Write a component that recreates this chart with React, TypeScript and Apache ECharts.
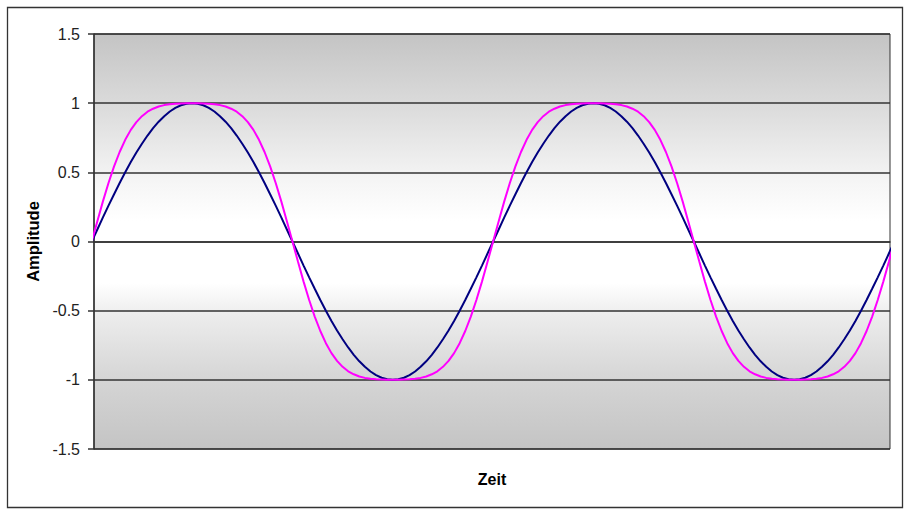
import React, { useEffect, useRef } from "react";
import * as echarts from "echarts";

// Zeit (phase, in degrees) of each sample
const zeit = [
  0, 5, 10, 15, 20, 25, 30, 35, 40, 45, 50, 55, 60, 65, 70, 75, 80, 85, 90, 95, 100, 105, 110, 115, 120, 125, 130, 135, 140, 145, 150, 155, 160, 165, 170, 175,
  180, 185, 190, 195, 200, 205, 210, 215, 220, 225, 230, 235, 240, 245, 250, 255, 260, 265, 270, 275, 280, 285, 290, 295, 300, 305, 310, 315, 320, 325, 330, 335, 340, 345, 350, 355,
  360, 365, 370, 375, 380, 385, 390, 395, 400, 405, 410, 415, 420, 425, 430, 435, 440, 445, 450, 455, 460, 465, 470, 475, 480, 485, 490, 495, 500, 505, 510, 515, 520, 525, 530, 535,
  540, 545, 550, 555, 560, 565, 570, 575, 580, 585, 590, 595, 600, 605, 610, 615, 620, 625, 630, 635, 640, 645, 650, 655, 660, 665, 670, 675, 680, 685, 690, 695, 700, 705, 710, 715,
  720,
];

// dark blue curve
const sinus = [
  0, 0.087, 0.174, 0.259, 0.342, 0.423, 0.5, 0.574, 0.643, 0.707, 0.766, 0.819, 0.866, 0.906, 0.94, 0.966, 0.985, 0.996, 1, 0.996, 0.985, 0.966, 0.94, 0.906, 0.866, 0.819, 0.766, 0.707, 0.643, 0.574, 0.5, 0.423, 0.342, 0.259, 0.174, 0.087,
  0, -0.087, -0.174, -0.259, -0.342, -0.423, -0.5, -0.574, -0.643, -0.707, -0.766, -0.819, -0.866, -0.906, -0.94, -0.966, -0.985, -0.996, -1, -0.996, -0.985, -0.966, -0.94, -0.906, -0.866, -0.819, -0.766, -0.707, -0.643, -0.574, -0.5, -0.423, -0.342, -0.259, -0.174, -0.087,
  0, 0.087, 0.174, 0.259, 0.342, 0.423, 0.5, 0.574, 0.643, 0.707, 0.766, 0.819, 0.866, 0.906, 0.94, 0.966, 0.985, 0.996, 1, 0.996, 0.985, 0.966, 0.94, 0.906, 0.866, 0.819, 0.766, 0.707, 0.643, 0.574, 0.5, 0.423, 0.342, 0.259, 0.174, 0.087,
  0, -0.087, -0.174, -0.259, -0.342, -0.423, -0.5, -0.574, -0.643, -0.707, -0.766, -0.819, -0.866, -0.906, -0.94, -0.966, -0.985, -0.996, -1, -0.996, -0.985, -0.966, -0.94, -0.906, -0.866, -0.819, -0.766, -0.707, -0.643, -0.574, -0.5, -0.423, -0.342, -0.259, -0.174, -0.087,
  0,
];

// magenta curve (flattened tops)
const verzerrt = [
  0, 0.147, 0.29, 0.423, 0.543, 0.647, 0.735, 0.807, 0.863, 0.906, 0.938, 0.96, 0.976, 0.986, 0.992, 0.996, 0.998, 1, 1, 1, 0.998, 0.996, 0.992, 0.986, 0.976, 0.96, 0.938, 0.906, 0.863, 0.807, 0.735, 0.647, 0.543, 0.423, 0.29, 0.147,
  0, -0.147, -0.29, -0.423, -0.543, -0.647, -0.735, -0.807, -0.863, -0.906, -0.938, -0.96, -0.976, -0.986, -0.992, -0.996, -0.998, -1, -1, -1, -0.998, -0.996, -0.992, -0.986, -0.976, -0.96, -0.938, -0.906, -0.863, -0.807, -0.735, -0.647, -0.543, -0.423, -0.29, -0.147,
  0, 0.147, 0.29, 0.423, 0.543, 0.647, 0.735, 0.807, 0.863, 0.906, 0.938, 0.96, 0.976, 0.986, 0.992, 0.996, 0.998, 1, 1, 1, 0.998, 0.996, 0.992, 0.986, 0.976, 0.96, 0.938, 0.906, 0.863, 0.807, 0.735, 0.647, 0.543, 0.423, 0.29, 0.147,
  0, -0.147, -0.29, -0.423, -0.543, -0.647, -0.735, -0.807, -0.863, -0.906, -0.938, -0.96, -0.976, -0.986, -0.992, -0.996, -0.998, -1, -1, -1, -0.998, -0.996, -0.992, -0.986, -0.976, -0.96, -0.938, -0.906, -0.863, -0.807, -0.735, -0.647, -0.543, -0.423, -0.29, -0.147,
  0,
];

const yTicks = { min: -1.5, max: 1.5, interval: 0.5 };
const xRange = { min: 2, max: 716 };

export default function App() {
  const ref = useRef<HTMLDivElement>(null);

  useEffect(() => {
    document.body.style.margin = "0";
    const chart = echarts.init(ref.current!, undefined, { renderer: "svg" });
    const font = "'Liberation Sans', Arial, sans-serif";
    chart.setOption({
      animation: false,
      backgroundColor: "#ffffff",
      graphic: [
        {
          type: "rect",
          shape: { x: 7.5, y: 7.5, width: 895, height: 500 },
          style: { fill: "none", stroke: "#333333", lineWidth: 1.3 },
          z: -10,
        },
      ],
      grid: {
        left: 94,
        right: 19,
        top: 34,
        bottom: 66,
        show: true,
        borderColor: "#333333",
        borderWidth: 1,
        backgroundColor: new echarts.graphic.LinearGradient(0, 0, 0, 1, [
          { offset: 0, color: "#c4c4c4" },
          { offset: 0.18, color: "#dcdcdc" },
          { offset: 0.36, color: "#f6f6f6" },
          { offset: 0.45, color: "#ffffff" },
          { offset: 0.6, color: "#ffffff" },
          { offset: 0.68, color: "#ececec" },
          { offset: 0.84, color: "#d4d4d4" },
          { offset: 1, color: "#c4c4c4" },
        ]),
      },
      xAxis: {
        type: "value",
        min: xRange.min,
        max: xRange.max,
        name: "Zeit",
        nameLocation: "middle",
        nameGap: 22,
        nameTextStyle: { fontFamily: font, fontSize: 16, fontWeight: "bold", color: "#000" },
        axisLine: { show: true, lineStyle: { color: "#333333", width: 1.5 } },
        axisTick: { show: false },
        axisLabel: { show: false },
        splitLine: { show: false },
      },
      yAxis: {
        type: "value",
        min: yTicks.min,
        max: yTicks.max,
        interval: yTicks.interval,
        name: "Amplitude",
        nameLocation: "middle",
        nameRotate: 90,
        nameGap: 48,
        nameTextStyle: { fontFamily: font, fontSize: 16.5, fontWeight: "bold", color: "#000" },
        axisLine: { show: true, lineStyle: { color: "#333333", width: 1.5 } },
        axisTick: { show: true, inside: false, length: 6, lineStyle: { color: "#333333", width: 1.5 } },
        axisLabel: { fontFamily: font, fontSize: 16, color: "#222", margin: 14 },
        splitLine: { show: true, lineStyle: { color: "#333333", width: 1.5 } },
      },
      series: [
        {
          type: "line",
          data: zeit.map((t, i) => [t, sinus[i]]),
          showSymbol: false,
          smooth: false,
          clip: true,
          lineStyle: { color: "#000080", width: 2 },
        },
        {
          type: "line",
          data: zeit.map((t, i) => [t, verzerrt[i]]),
          showSymbol: false,
          smooth: false,
          clip: true,
          lineStyle: { color: "#ff00ff", width: 2 },
        },
      ],
    });
    return () => chart.dispose();
  }, []);

  return <div ref={ref} style={{ width: 909, height: 515 }} />;
}
